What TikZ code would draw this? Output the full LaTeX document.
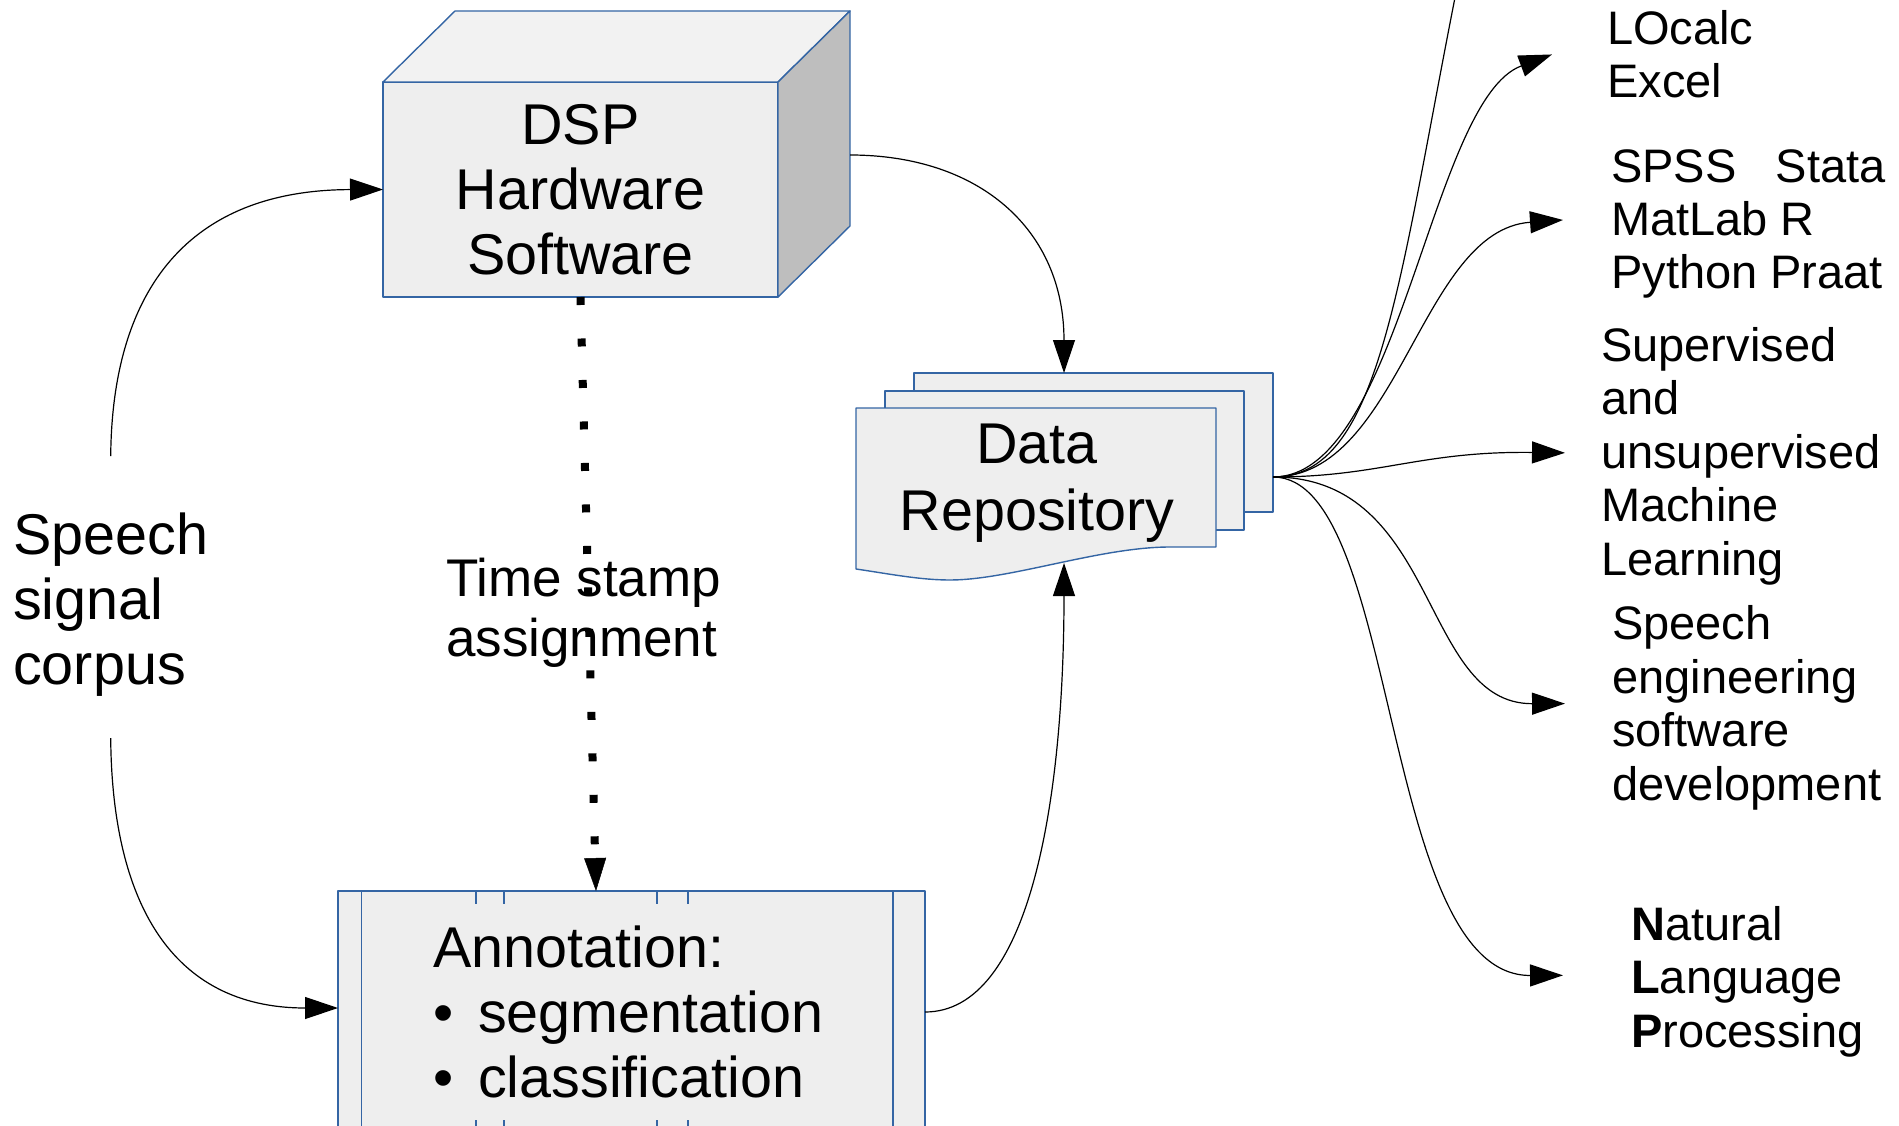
\documentclass[tikz,border=0pt]{standalone}
\usepackage{fontspec}
\setmainfont{Liberation Sans}
\usetikzlibrary{arrows.meta}

\definecolor{boxline}{HTML}{3465A4}
\definecolor{boxfill}{HTML}{EEEEEE}
\definecolor{boxtop}{HTML}{F2F2F2}
\definecolor{boxside}{HTML}{BEBEBE}

\tikzset{
  facebox/.style={draw=boxline, fill=boxfill, line width=1.4pt, line join=round, outer sep=0pt},
  boxrule/.style={draw=boxline, line width=1.2pt},
  bigfont/.style={font=\fontsize{57.5}{65}\selectfont, inner sep=0pt},
  sidefont/.style={font=\fontsize{47}{53.5}\selectfont, inner sep=0pt, align=left, anchor=base west},
  flow/.style={-{Triangle[length=33pt,width=22pt]}, line width=1.2pt},
}

\begin{document}
\begin{tikzpicture}[x=1pt,y=-1pt]
  \useasboundingbox (0,0) rectangle (1899,1126);
  \clip (0,0) rectangle (1899,1126);

  % DSP box
  \node[facebox, bigfont, align=center, minimum width=395pt, minimum height=215pt] (dsp) at (580.5,189.5) {DSP\\Hardware\\Software};
  \draw[facebox, fill=boxtop] (dsp.north west) -- ++(72,-71) -- ++(395,0) -- (dsp.north east) -- cycle;
  \draw[facebox, fill=boxside] (dsp.north east) -- ++(72,-71) -- ++(0,215) -- (dsp.south east) -- cycle;
  \coordinate (dspout) at (850,155);

  % Data repository
  \draw[facebox] (914,373) rectangle (1273,512);
  \draw[facebox] (885,391) rectangle (1244,530);
  \draw[facebox] (856,408) -- (1216,408) -- (1216,547) -- (1170,547)
      .. controls (1100,547) and (1010,580) .. (950,580)
      .. controls (920,580) and (890,574) .. (856,569) -- cycle;
  \node[bigfont, align=center] (repo) at (1037,483) {Data\\[2pt]Repository};
  \coordinate (repotop) at (1064,373);
  \coordinate (repobot) at (1064,563);
  \coordinate (hub) at (1273,477);

  % Annotation
  \node[facebox, anchor=north west, minimum width=587pt, minimum height=242pt] (anno) at (338,891) {};
  \draw[boxrule] (361.5,891) -- (361.5,1133) (893,891) -- (893,1133);
  \foreach \x in {476,504,657,688} {
      \draw[boxrule] (\x,891) -- ++(0,13);
      \draw[boxrule] (\x,1133) -- ++(0,-13);
  }
  \node[bigfont, align=left, anchor=base west] (annotext) at (433,1097)
      {Annotation:\\\makebox[45pt][l]{•}segmentation\\\makebox[45pt][l]{•}classification};
  \coordinate (stampin) at (596,891);

  % Inputs and labels
  \node[bigfont, align=left, anchor=base west] (speech) at (13,684) {Speech\\signal\\corpus};
  \node[font=\fontsize{53}{60}\selectfont, inner sep=0pt, align=left, anchor=base west] (stamp) at (446,656) {Time stamp\\assignment};

  % Uses
  \node[sidefont] (calc) at (1607,98) {LOcalc\\Excel};
  \node[sidefont] (stats) at (1611,289) {SPSS\ \ \ Stata\\MatLab R\\Python Praat};
  \node[sidefont] (ml) at (1601,575) {Supervised\\and\\unsupervised\\Machine\\Learning};
  \node[sidefont] (eng) at (1612,800) {Speech\\engineering\\software\\development};
  \node[sidefont] (nlp) at (1631,1047) {\textbf{N}atural\\\textbf{L}anguage\\\textbf{P}rocessing};
  \coordinate (offtop) at (1475,-100);

  \draw[line width=8pt, dash pattern=on 8pt off 33.5pt,
        -{Triangle[length=33pt,width=22pt,line width=0.5pt]}] (dsp.south) -- (stampin);

  \begin{scope}[flow]
      \draw ([yshift=56pt]speech.north) .. controls (112,300) and (180,190) .. (dsp.west);
      \draw ([yshift=-42pt]speech.south) .. controls (112,900) and (170,1008) .. ([yshift=4pt]anno.west);
      \draw (dspout) .. controls (980,155) and (1064,230) .. (repotop);
      \draw (anno.east) .. controls (1030,1012) and (1064,800) .. (repobot);

      \draw (hub) .. controls (1400,477) and (1430,100) .. ([xshift=-55pt]calc.west);
      \draw (hub) .. controls (1400,477) and (1420,230) .. ([xshift=-48pt,yshift=4pt]stats.west);
      \draw (hub) .. controls (1380,477) and (1420,451) .. ([xshift=-36pt,yshift=3pt]ml.west);
      \draw (hub) .. controls (1440,477) and (1420,704) .. ([xshift=-47pt,yshift=4pt]eng.west);
      \draw (hub) .. controls (1400,477) and (1380,976) .. ([xshift=-68pt,yshift=6pt]nlp.west);
  \end{scope}
  \draw[line width=1.2pt] (hub) .. controls (1390,477) and (1400,250) .. (offtop);
\end{tikzpicture}
\end{document}
